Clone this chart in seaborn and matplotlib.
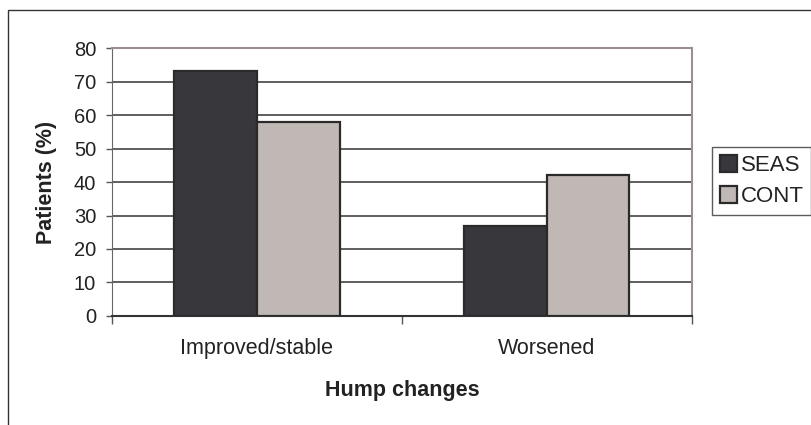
import matplotlib
matplotlib.use('Agg')
import matplotlib.pyplot as plt
from matplotlib.patches import Rectangle
import seaborn as sns
import pandas as pd

# values
categories = ['Improved/stable', 'Worsened']
groups = ['SEAS', 'CONT']
seas = [73, 27]
cont = [58, 42]
colors = {'SEAS': '#38373c', 'CONT': '#c0b8b5'}

df = pd.DataFrame({
    'change': categories * 2,
    'group': ['SEAS'] * len(seas) + ['CONT'] * len(cont),
    'value': seas + cont,
})

sns.set_style('white')
plt.rcParams['font.family'] = ['Liberation Sans', 'DejaVu Sans']

fig = plt.figure(figsize=(8.11, 4.25), dpi=100)
ax = fig.add_axes([0.138, 0.2565, 0.715, 0.6305])

sns.barplot(data=df, x='change', y='value', hue='group', hue_order=groups,
            palette=colors, width=0.57, edgecolor='#2a2a2a', linewidth=1.6,
            saturation=1, ax=ax, zorder=3)

ax.set_ylim(0, 80)
ax.set_xlim(-0.5, 1.5)
ax.set_yticks(range(0, 81, 10))
ax.yaxis.grid(True, color='#333333', linewidth=1.1, zorder=0)
ax.set_axisbelow(True)

ax.tick_params(axis='y', labelsize=14.5, length=4.3, width=1, color='#555555',
               left=True, pad=7, labelcolor='#222222')
ax.tick_params(axis='x', which='major', labelsize=15.5, length=0, pad=16,
               labelcolor='#222222')
ax.set_xticks([-0.5, 0.5, 1.5], minor=True)
ax.tick_params(axis='x', which='minor', length=6, width=1, color='#555555', bottom=True)

ax.set_xlabel('Hump changes', fontsize=15.5, fontweight='bold', labelpad=15,
              color='#222222')
ax.set_ylabel('Patients (%)', fontsize=15.5, fontweight='bold', labelpad=12,
              color='#222222')

for side in ['top', 'right']:
    ax.spines[side].set_color('#9a8f8c')
    ax.spines[side].set_linewidth(1.5)
ax.spines['left'].set_color('#666666')
ax.spines['bottom'].set_color('#333333')
ax.spines['bottom'].set_linewidth(1.5)

leg = ax.legend(loc='upper left', bbox_to_anchor=(1.0345, 0.63), frameon=True,
                fancybox=False, fontsize=16, handlelength=0.8, handleheight=0.8,
                handletextpad=0.15, borderpad=0.35, labelspacing=0.45,
                borderaxespad=0)
leg.get_frame().set_edgecolor('#333333')
leg.get_frame().set_linewidth(1)
for t in leg.get_texts():
    t.set_color('#222222')

# outer frame around the chart
fig.add_artist(Rectangle((8 / 811, -0.1), 1.2, 1 - 10 / 425 + 0.1,
                         transform=fig.transFigure, fill=False,
                         edgecolor='#333333', linewidth=1))

fig.savefig('out.png', dpi=100)
